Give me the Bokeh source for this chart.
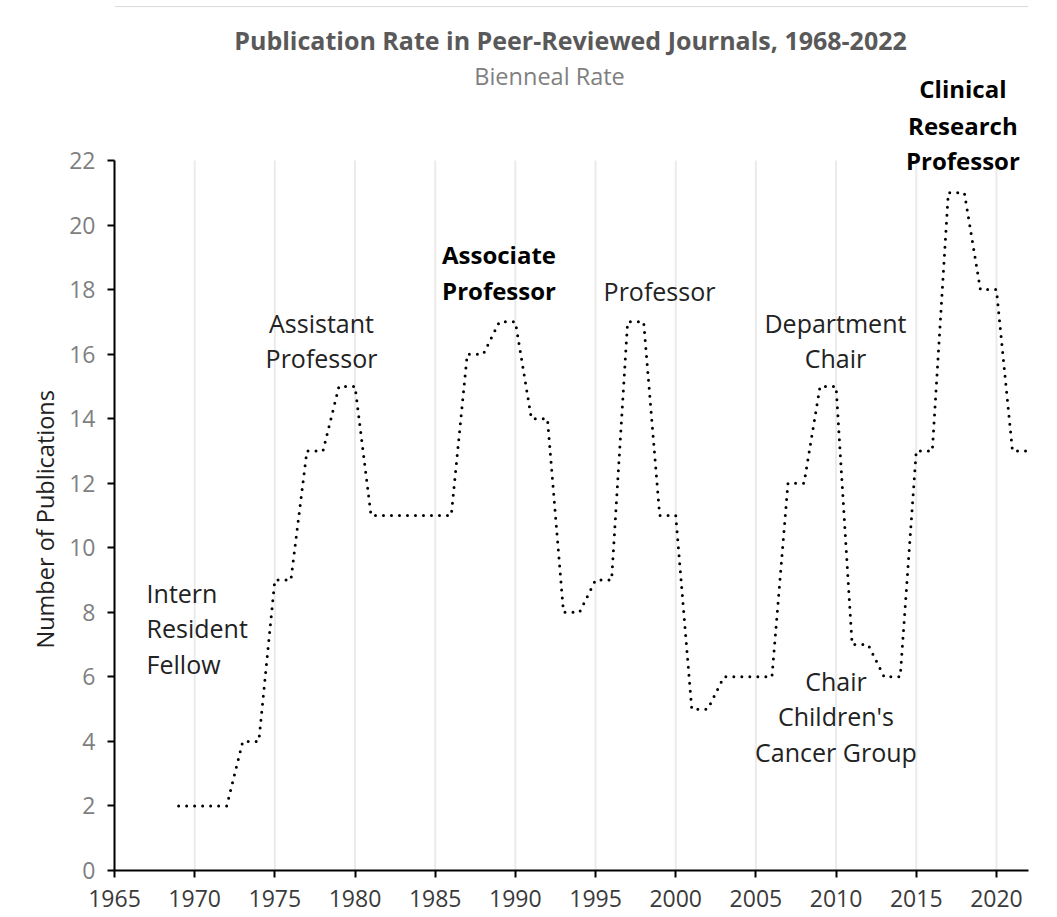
from bokeh.plotting import figure
from bokeh.models import Range1d, FixedTicker, Label, Span, Title
from bokeh.embed import file_html
from bokeh.resources import INLINE

# ---- data ----
years = list(range(1969, 2023))
publications = [2, 2, 2, 2, 4, 4, 9, 9, 13, 13, 15, 15,
                11, 11, 11, 11, 11, 11, 16, 16, 17, 17, 14, 14,
                8, 8, 9, 9, 17, 17, 11, 11, 5, 5, 6, 6, 6, 6,
                12, 12, 15, 15, 7, 7, 6, 6, 13, 13, 21, 21, 18, 18, 13, 13]
x_ticks = [1965, 1970, 1975, 1980, 1985, 1990, 1995, 2000, 2005, 2010, 2015, 2020]
y_ticks = [0, 2, 4, 6, 8, 10, 12, 14, 16, 18, 20, 22]

title_text = "Publication Rate in Peer-Reviewed Journals, 1968-2022"
subtitle_text = "Bienneal Rate"
y_label = "Number of Publications"

FONT = "Open Sans"

# plot area extends above the 0-22 axis to hold the title and top annotation
p = figure(width=1057, height=917, output_backend="svg", toolbar_location=None,
           x_range=Range1d(1965, 2022), y_range=Range1d(0, 26.958),
           min_border_left=114, min_border_right=29, min_border_top=0,
           min_border_bottom=47)
p.outline_line_color = None
p.background_fill_color = "white"
p.border_fill_color = "white"

# grid (vertical lines only, limited to the axis extent)
p.xgrid.visible = False
p.ygrid.visible = False
n = len(x_ticks)
p.segment(x0=x_ticks, y0=[y_ticks[0]] * n, x1=x_ticks, y1=[y_ticks[-1]] * n,
          line_color="#ebebeb", line_width=2)

# thin border line at the very top
p.add_layout(Span(location=26.77, dimension="width", line_color="#d9d9d9", line_width=1))

# axes
p.xaxis.ticker = FixedTicker(ticks=x_ticks)
p.yaxis.ticker = FixedTicker(ticks=y_ticks)
p.yaxis.bounds = (y_ticks[0], y_ticks[-1])
for ax in (p.xaxis[0], p.yaxis[0]):
    ax.axis_line_color = "black"
    ax.axis_line_width = 2
    ax.major_tick_line_color = "black"
    ax.major_tick_line_width = 2
    ax.major_tick_in = 0
    ax.major_tick_out = 7
    ax.minor_tick_line_color = None
    ax.major_label_text_font = FONT
    ax.major_label_text_font_size = "23px"
p.xaxis.major_label_text_color = "#3a3a3a"
p.xaxis.major_label_standoff = 12
p.yaxis.major_label_text_color = "#7f7f7f"
p.yaxis.major_label_standoff = 12

# y-axis title, placed beside the 0-22 part of the axis
p.add_layout(Title(text=y_label, align="left", offset=222, standoff=11,
                   text_font=FONT, text_font_size="23.5px",
                   text_font_style="normal", text_color="#222222"), "left")

# the series
p.line(years, publications, line_color="black", line_width=3,
       line_dash="0 8", line_cap="round", line_join="round")

# title / subtitle
p.add_layout(Label(x=1993.44, y=25.73, text=title_text, text_align="center",
                   text_baseline="alphabetic", text_font=FONT,
                   text_font_size="25px", text_font_style="bold",
                   text_color="#595959"))
p.add_layout(Label(x=1992.13, y=24.63, text=subtitle_text, text_align="center",
                   text_baseline="alphabetic", text_font=FONT,
                   text_font_size="23.5px", text_color="#7f7f7f"))

# career annotations: (lines, x, baselines, align, bold)
annotations = [
    (["Intern", "Resident", "Fellow"], 1967.0, [8.614, 7.499, 6.414], "left", False),
    (["Assistant", "Professor"], 1977.91, [16.98, 15.865], "center", False),
    (["Associate", "Professor"], 1988.98, [19.087, 17.972], "center", True),
    (["Professor"], 1998.99, [17.972], "center", False),
    (["Department", "Chair"], 2009.96, [16.98, 15.865], "center", False),
    (["Chair", "Children's", "Cancer Group"], 2009.99, [5.866, 4.772, 3.666], "center", False),
    (["Clinical", "Research", "Professor"], 2017.91, [24.22, 23.08, 21.996], "center", True),
]
for lines, ax_x, baselines, align, bold in annotations:
    for txt, yb in zip(lines, baselines):
        p.add_layout(Label(x=ax_x, y=yb, text=txt, text_align=align,
                           text_baseline="alphabetic", text_font=FONT,
                           text_font_size="24px" if bold else "25px",
                           text_font_style="bold" if bold else "normal",
                           text_color="black" if bold else "#222222"))

open("out.html", "w").write(file_html(p, INLINE))
